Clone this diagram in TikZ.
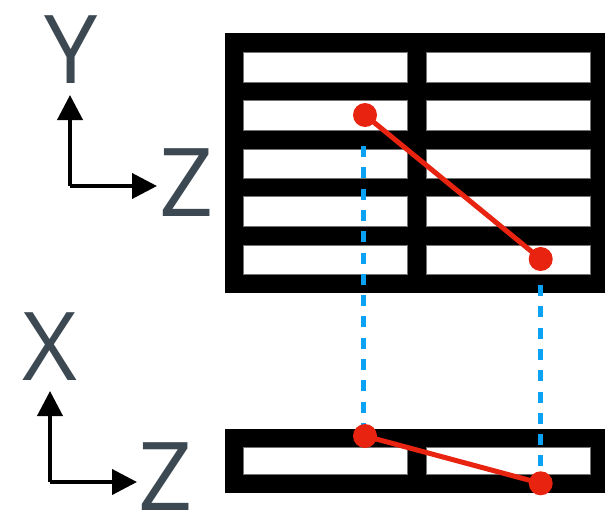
\documentclass[tikz,border=0pt]{standalone}
\usepackage{fontspec}
\setmainfont{Open Sans}
\usetikzlibrary{arrows.meta}
\definecolor{dotred}{HTML}{E8230F}
\definecolor{guideblue}{HTML}{0AA2F5}
\definecolor{labelgray}{HTML}{3C4852}
\tikzset{
  frame/.style={fill=black, draw=none},
  cell/.style={fill=white, draw=black!55, line width=0.6pt},
  marker/.style={circle, fill=dotred, draw=none, minimum size=24pt, inner sep=0pt},
  link/.style={dotred, line width=5pt},
  guide/.style={guideblue, line width=5pt, dash pattern=on 11pt off 10.3pt},
  axis/.style={line width=4pt, -{Triangle[length=25pt,width=25pt]}},
  axislabel/.style={text=labelgray, inner sep=0pt, anchor=base,
    font=\fontsize{95}{100}\selectfont}
}
\begin{document}
\begin{tikzpicture}[x=1pt, y=-1pt]
\useasboundingbox (0,0) rectangle (605,514);

% upper grid: two columns, five rows
\fill[frame] (225,33) rectangle (605,293);
\foreach \top in {52.3,100.7,149,196.7,245}{
  \draw[cell] (243.3,\top) rectangle (407.7,\top+29.5);
  \draw[cell] (426.3,\top) rectangle (590.3,\top+29.5);
}

% lower grid: two columns, one row
\fill[frame] (225,429) rectangle (605,492.7);
\draw[cell] (243.3,447.3) rectangle (407.7,474);
\draw[cell] (426.3,447.3) rectangle (590.3,474);

% projection guides
\coordinate (gla) at (363,146);
\coordinate (glb) at (363,431);
\coordinate (gra) at (540,285);
\coordinate (grb) at (540,472);
\draw[guide] (gla) -- (glb);
\draw[guide] (gra) -- (grb);

% segment in the upper view
\node[marker] (p1) at (365,115) {};
\node[marker] (p2) at (540.7,259) {};
\draw[link] (p1.center) -- (p2.center);

% segment in the lower view
\node[marker] (q1) at (365,436) {};
\node[marker] (q2) at (540.7,483.3) {};
\draw[link] (q1.center) -- (q2.center);

% upper axes
\coordinate (oa) at (70,186);
\coordinate (ya) at (70,95);
\coordinate (za) at (157,186);
\draw[axis] (oa) -- (ya);
\draw[axis] (oa) -- (za);
\node[axislabel] (ly) at (71,83) {Y};
\node[axislabel] (lz1) at (186.5,216) {Z};

% lower axes
\coordinate (ob) at (50,482);
\coordinate (xb) at (50,391);
\coordinate (zb) at (137,482);
\draw[axis] (ob) -- (xb);
\draw[axis] (ob) -- (zb);
\node[axislabel] (lx) at (50,380) {X};
\node[axislabel] (lz2) at (166,510) {Z};
\end{tikzpicture}
\end{document}
